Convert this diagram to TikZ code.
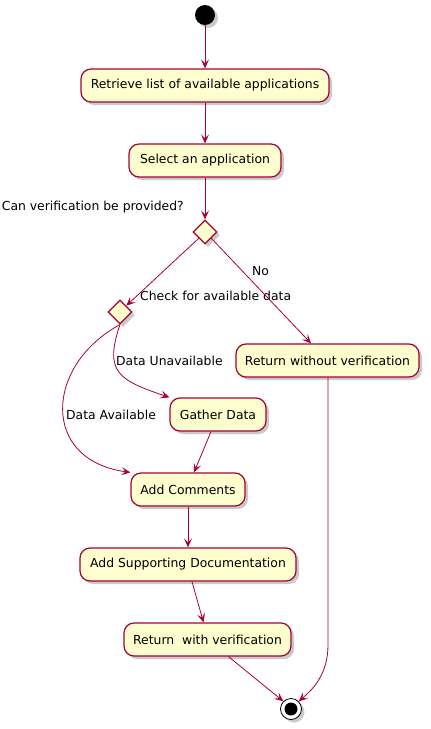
\documentclass[tikz,border=0pt]{standalone}
\usepackage{fontspec}
\setmainfont{DejaVu Sans}
\usetikzlibrary{shapes.geometric,shadows,arrows.meta}
\definecolor{pfill}{HTML}{FEFECE}
\definecolor{pline}{HTML}{A80036}
\tikzset{
  act/.style={draw=pline, fill=pfill, line width=1.2pt, rounded corners=10pt,
    minimum height=33pt, inner xsep=2pt, font=\fontsize{12.4}{14}\selectfont,
    drop shadow={shadow xshift=3pt, shadow yshift=-3pt, fill=black!35, opacity=0.6}},
  dec/.style={diamond, draw=pline, fill=pfill, line width=1.2pt, minimum width=24pt,
    minimum height=24pt, inner sep=0pt,
    drop shadow={shadow xshift=3pt, shadow yshift=-3pt, fill=black!35, opacity=0.6}},
  lbl/.style={font=\fontsize{12.4}{14}\selectfont, inner sep=0pt},
  flow/.style={draw=pline, line width=0.8pt, -{Stealth[length=9pt,width=8pt,inset=4pt]}},
}
\begin{document}
\begin{tikzpicture}[x=1pt,y=-1pt]
\useasboundingbox (0,0) rectangle (431,729);
\node[circle, fill=black, minimum size=20pt, inner sep=0pt,
  drop shadow={shadow xshift=3pt, shadow yshift=-3pt, fill=black!35, opacity=0.6}] (start) at (205,15) {};
\node[act, minimum width=248pt] (ret) at (205,85.5) {Retrieve list of available applications};
\node[act, minimum width=152pt] (sel) at (205,160.5) {Select an application};
\node[dec] (d1) at (205,232) {};
\node[lbl, anchor=east] (q1) at (184,207) {Can verification be provided?};
\node[dec] (d2) at (120,312) {};
\node[lbl, anchor=west] (q2) at (140,296) {Check for available data};
\node[lbl, anchor=west] (no) at (252,271) {No};
\node[act, minimum width=183pt] (rwo) at (327.5,360.5) {Return without verification};
\node[act, minimum width=96pt] (gat) at (218,414.5) {Gather Data};
\node[lbl, anchor=west] (du) at (116,361) {Data Unavailable};
\node[lbl, anchor=west] (da) at (66,415) {Data Available};
\node[act, minimum width=114pt] (com) at (188,489.5) {Add Comments};
\node[act, minimum width=216pt] (doc) at (188,564.5) {Add Supporting Documentation};
\node[act, minimum width=167pt] (rwv) at (207.5,639.5) {Return\ \ with verification};
\node[circle, draw=black, fill=white, line width=0.8pt, minimum size=21pt, inner sep=0pt,
  drop shadow={shadow xshift=3pt, shadow yshift=-3pt, fill=black!35, opacity=0.6}] (end) at (291,709) {};
\fill[black] (end.center) circle (6.5pt);
\coordinate (k1) at (328,645);
\draw[flow] (start) -- (ret);
\draw[flow] (ret) -- (sel);
\draw[flow] (sel) -- (d1);
\draw[flow] (d1.south west) -- (d2.north east);
\draw[flow] (d1.south east) -- (rwo.north west -| 311,0) ;
\draw[flow] (d2.south) .. controls (45,365) and (40,460) .. (com.north west);
\draw[flow] (d2.south) .. controls (104,372) and (118,380) .. (gat.north west);
\draw[flow] (gat.south) ++(-7,0) -- ([xshift=6pt]com.north);
\draw[flow] (com) -- (doc);
\draw[flow] ([xshift=4pt]doc.south) -- ([xshift=-4pt]rwv.north);
\draw[flow] ([xshift=21pt]rwv.south) -- (end.north west);
\draw[flow] (rwo.south -| k1) -- (k1) .. controls (328,675) and (312,690) .. (end.north east);
\end{tikzpicture}
\end{document}
